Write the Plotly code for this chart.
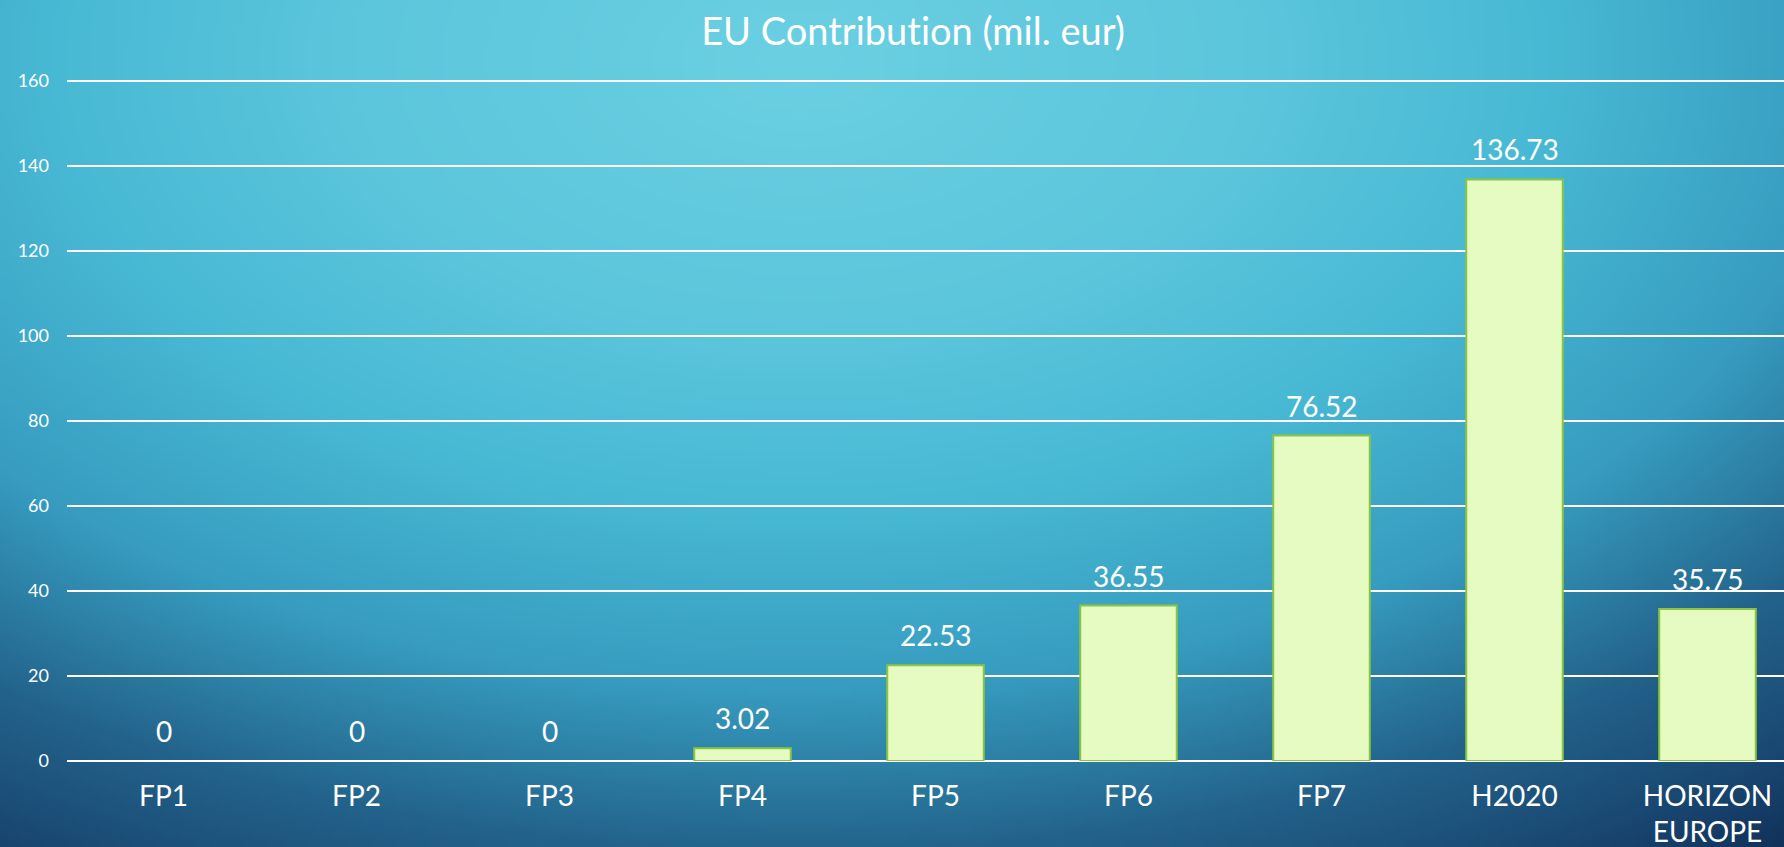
import base64
import struct
import zlib

import numpy as np
import plotly.graph_objects as go

# ---- data ----
categories = ["FP1", "FP2", "FP3", "FP4", "FP5", "FP6", "FP7", "H2020", "HORIZON<br>EUROPE"]
values = [0, 0, 0, 3.02, 22.53, 36.55, 76.52, 136.73, 35.75]
value_labels = ["0", "0", "0", "3.02", "22.53", "36.55", "76.52", "136.73", "35.75"]
y_ticks = [0, 20, 40, 60, 80, 100, 120, 140, 160]

W, H = 1784, 847
FONT = "Lato"


# ---- background gradient image (PNG built in memory) ----
def hex_rgb(h):
    h = h.lstrip("#")
    return [int(h[i:i + 2], 16) for i in (0, 2, 4)]


def make_bg(w=446, h=212):
    xs = (np.arange(w) + 0.5) / w * W
    ys = (np.arange(h) + 0.5) / h * H
    X, Y = np.meshgrid(xs, ys)
    cx, cy, a, b = 800.0, 60.0, 1500.0, 900.0
    s = np.sqrt(((X - cx) / a) ** 2 + ((Y - cy) / b) ** 2)
    stops = [0.0, 0.3, 0.5, 0.7, 0.88, 1.0, 1.12]
    cols = ["#6bd0e2", "#5cc6dc", "#48b9d4", "#379cc0", "#23638b", "#1a4a74", "#0e2b53"]
    rgb = np.array([hex_rgb(c) for c in cols], dtype=float)
    img = np.zeros((h, w, 3))
    for k in range(3):
        img[..., k] = np.interp(s, stops, rgb[:, k])
    img = np.clip(img, 0, 255).astype(np.uint8)
    raw = b"".join(b"\x00" + img[r].tobytes() for r in range(h))

    def chunk(tag, data):
        c = struct.pack(">I", len(data)) + tag + data
        return c + struct.pack(">I", zlib.crc32(tag + data) & 0xFFFFFFFF)

    png = b"\x89PNG\r\n\x1a\n"
    png += chunk(b"IHDR", struct.pack(">IIBBBBB", w, h, 8, 2, 0, 0, 0))
    png += chunk(b"IDAT", zlib.compress(raw, 9))
    png += chunk(b"IEND", b"")
    return "data:image/png;base64," + base64.b64encode(png).decode()


fig = go.Figure()

fig.add_trace(go.Bar(
    x=categories,
    y=values,
    width=0.5,
    marker=dict(
        color="#e6fbc2",
        line=dict(color="#8cc63f", width=[0 if v == 0 else 2 for v in values]),
    ),
    hoverinfo="skip",
))

for c, v, t in zip(categories, values, value_labels):
    fig.add_annotation(
        x=c, y=v, text=t, showarrow=False, xanchor="center", yanchor="bottom",
        yshift=11, font=dict(family=FONT, size=28, color="white"),
    )

L, R, T, B = 67, 0, 72, 86
fig.update_layout(
    width=W, height=H,
    margin=dict(l=L, r=R, t=T, b=B, autoexpand=False),
    paper_bgcolor="#2a7fa5",
    plot_bgcolor="rgba(0,0,0,0)",
    showlegend=False,
    font=dict(family=FONT, color="white"),
    title=dict(
        text="EU Contribution (mil. eur)",
        x=(913 - L) / (W - L - R), xanchor="center", xref="paper",
        y=1 - 32 / H, yanchor="middle", yref="container",
        font=dict(family=FONT, size=38, color="white"),
    ),
    images=[dict(
        source=make_bg(), xref="paper", yref="paper",
        x=-L / (W - L - R), y=1 + T / (H - T - B),
        sizex=W / (W - L - R), sizey=H / (H - T - B),
        xanchor="left", yanchor="top", sizing="stretch", layer="below",
    )],
    xaxis=dict(
        range=[-0.5, (W - L) / 193.0 - 0.5],
        showgrid=False, zeroline=False, showline=False, ticks="",
        tickfont=dict(family=FONT, size=28, color="white"),
        ticklabelstandoff=16,
        fixedrange=True,
    ),
    yaxis=dict(
        range=[0, 162], tickvals=y_ticks,
        showgrid=True, gridcolor="white", gridwidth=2,
        zeroline=True, zerolinecolor="white", zerolinewidth=2,
        showline=False, ticks="",
        tickfont=dict(family=FONT, size=18, color="white"),
        ticklabelstandoff=17,
        fixedrange=True,
    ),
)

fig.write_html(
    "out.html",
    config={"displayModeBar": False},
    post_script=(
        "document.body.style.margin='0';document.body.style.overflow='hidden';"
        "var s=document.createElement('style');"
        "s.textContent='text{font-variant-ligatures:none !important;}';"
        "document.head.appendChild(s);"
    ),
)
